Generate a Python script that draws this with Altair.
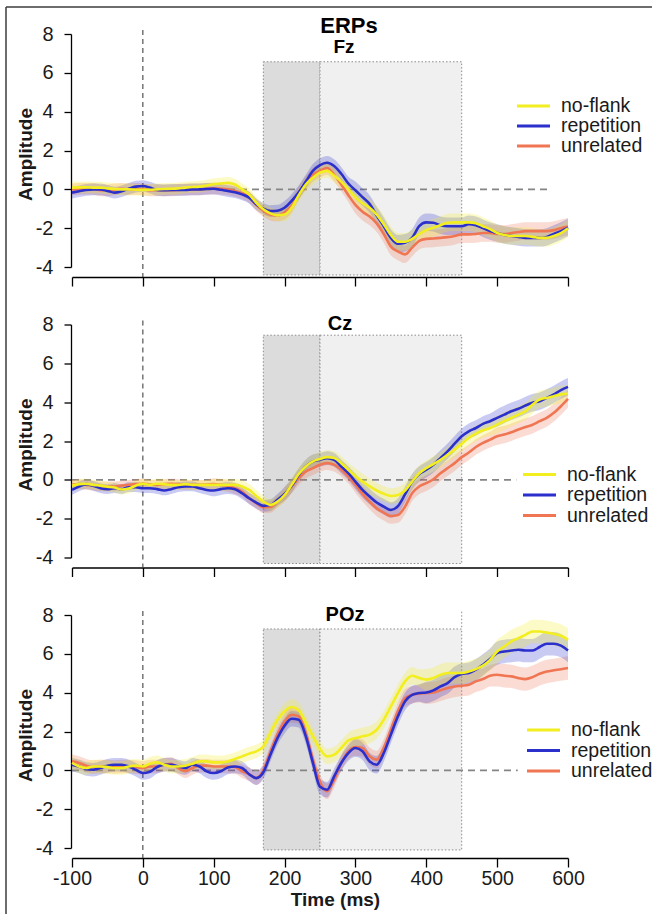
import altair as alt
import pandas as pd

# ---------------- data ----------------
TIME_MS = list(range(-100, 601, 10))
CONDITIONS = ["no-flank", "repetition", "unrelated"]
DRAW_ORDER = ["unrelated", "repetition", "no-flank"]

FZ_NOFLANK = [0.09, 0.10, 0.10, 0.09, 0.09, 0.05, 0.02, 0.00, 0.00, -0.02,
              -0.03, -0.02, 0.00, 0.02, 0.03, 0.05, 0.09, 0.12, 0.14, 0.20,
              0.26, 0.30, 0.34, 0.25, 0.00, -0.26, -0.69, -1.03, -1.24, -1.34,
              -1.30, -0.95, -0.30, 0.25, 0.60, 0.86, 0.95, 0.70, 0.40, 0.00,
              -0.40, -0.72, -0.95, -1.30, -1.80, -2.35, -2.70, -2.70, -2.55, -2.30,
              -2.10, -1.98, -1.85, -1.72, -1.70, -1.70, -1.70, -1.75, -1.90, -2.05,
              -2.25, -2.35, -2.40, -2.40, -2.40, -2.45, -2.50, -2.50, -2.40, -2.25,
              -2.00]
FZ_REPETITION = [-0.17, -0.10, -0.03, 0.00, 0.00, -0.08, -0.17, -0.10, 0.03, 0.14,
                 0.17, 0.09, -0.03, -0.05, -0.03, -0.03, -0.03, 0.00, 0.00, 0.02,
                 0.03, -0.02, -0.09, -0.15, -0.26, -0.43, -0.77, -1.00, -1.12, -1.10,
                 -0.95, -0.60, -0.15, 0.40, 0.95, 1.25, 1.37, 1.20, 0.80, 0.30,
                 -0.05, -0.40, -0.75, -1.35, -1.90, -2.50, -2.80, -2.75, -2.50, -1.90,
                 -1.70, -1.72, -1.85, -1.90, -1.90, -1.90, -1.80, -1.85, -2.00, -2.15,
                 -2.25, -2.35, -2.40, -2.45, -2.50, -2.50, -2.50, -2.45, -2.30, -2.15,
                 -1.97]
FZ_UNRELATED = [0.00, 0.02, 0.03, 0.02, -0.05, -0.05, 0.00, 0.03, 0.00, 0.02,
                0.00, -0.05, -0.05, -0.05, -0.05, -0.03, 0.00, 0.00, 0.00, 0.03,
                0.05, 0.03, 0.00, -0.08, -0.20, -0.40, -0.80, -1.10, -1.30, -1.35,
                -1.20, -0.85, -0.20, 0.30, 0.75, 0.95, 1.10, 0.75, 0.25, -0.30,
                -0.80, -1.15, -1.40, -1.75, -2.30, -2.95, -3.20, -3.35, -3.00, -2.65,
                -2.55, -2.53, -2.50, -2.46, -2.40, -2.32, -2.32, -2.30, -2.25, -2.25,
                -2.30, -2.30, -2.25, -2.20, -2.15, -2.15, -2.15, -2.15, -2.10, -2.00,
                -1.92]

CZ_NOFLANK = [-0.30, -0.22, -0.20, -0.26, -0.30, -0.35, -0.40, -0.50, -0.45, -0.30,
              -0.20, -0.26, -0.20, -0.22, -0.26, -0.26, -0.22, -0.26, -0.26, -0.26,
              -0.26, -0.26, -0.26, -0.26, -0.34, -0.52, -0.83, -1.12, -1.29, -1.12,
              -0.78, -0.26, 0.30, 0.69, 0.95, 1.07, 1.17, 1.12, 0.86, 0.52,
              0.20, -0.09, -0.34, -0.55, -0.72, -0.83, -0.78, -0.55, -0.09, 0.34,
              0.60, 0.81, 1.03, 1.29, 1.55, 1.86, 2.16, 2.38, 2.55, 2.67,
              2.84, 3.02, 3.19, 3.36, 3.53, 3.88, 4.14, 4.22, 4.31, 4.40,
              4.45]
CZ_REPETITION = [-0.52, -0.34, -0.22, -0.31, -0.43, -0.48, -0.43, -0.48, -0.38, -0.38,
                 -0.43, -0.43, -0.48, -0.55, -0.48, -0.38, -0.34, -0.34, -0.43, -0.52,
                 -0.55, -0.48, -0.43, -0.48, -0.69, -0.95, -1.17, -1.34, -1.30, -1.03,
                 -0.72, -0.30, 0.25, 0.69, 0.95, 1.03, 1.12, 1.03, 0.69, 0.34,
                 -0.09, -0.52, -0.86, -1.17, -1.38, -1.55, -1.35, -0.75, -0.10, 0.30,
                 0.52, 0.78, 1.12, 1.47, 1.86, 2.24, 2.50, 2.67, 2.88, 3.02,
                 3.19, 3.36, 3.53, 3.66, 3.83, 3.97, 4.05, 4.22, 4.40, 4.62,
                 4.79]
CZ_UNRELATED = [-0.26, -0.22, -0.26, -0.30, -0.34, -0.34, -0.34, -0.30, -0.26, -0.22,
                -0.20, -0.24, -0.26, -0.22, -0.20, -0.22, -0.26, -0.26, -0.26, -0.24,
                -0.22, -0.26, -0.31, -0.43, -0.60, -0.95, -1.20, -1.41, -1.40, -1.12,
                -0.78, -0.34, 0.09, 0.43, 0.60, 0.78, 0.86, 0.78, 0.52, 0.17,
                -0.26, -0.72, -1.12, -1.47, -1.69, -1.86, -1.81, -1.38, -0.69, -0.34,
                -0.17, 0.03, 0.34, 0.60, 0.86, 1.17, 1.41, 1.69, 1.90, 2.07,
                2.24, 2.33, 2.45, 2.59, 2.72, 2.84, 3.02, 3.19, 3.45, 3.79,
                4.17]

POZ_NOFLANK = [0.38, 0.20, 0.12, 0.20, 0.20, 0.17, 0.12, 0.12, 0.20, 0.24,
               0.20, 0.34, 0.41, 0.29, 0.20, 0.20, 0.24, 0.34, 0.46, 0.46,
               0.41, 0.41, 0.46, 0.58, 0.72, 0.86, 0.98, 1.23, 1.92, 2.60,
               3.04, 3.26, 3.09, 2.44, 1.75, 1.10, 0.72, 0.81, 1.15, 1.54,
               1.66, 1.75, 1.84, 2.09, 2.61, 3.29, 3.98, 4.58, 4.87, 4.75,
               4.67, 4.75, 4.92, 5.01, 5.01, 5.01, 5.09, 5.21, 5.39, 5.69,
               6.12, 6.38, 6.64, 6.81, 6.98, 7.15, 7.15, 7.10, 7.03, 6.93,
               6.72]
POZ_REPETITION = [0.29, 0.20, 0.07, 0.03, 0.12, 0.24, 0.29, 0.29, 0.20, 0.03,
                  -0.14, -0.07, 0.17, 0.29, 0.29, 0.20, 0.12, 0.29, 0.20, -0.05,
                  -0.14, -0.05, 0.15, 0.20, 0.12, -0.20, -0.40, -0.10, 0.80, 1.66,
                  2.30, 2.66, 2.60, 1.75, 0.38, -0.85, -1.00, -0.31, 0.38, 0.89,
                  1.15, 0.98, 0.46, 0.29, 0.89, 1.84, 2.78, 3.55, 3.89, 3.98,
                  4.01, 4.12, 4.32, 4.49, 4.80, 4.96, 5.01, 5.18, 5.44, 5.73,
                  6.04, 6.12, 6.17, 6.21, 6.17, 6.17, 6.35, 6.52, 6.52, 6.42,
                  6.17]
POZ_UNRELATED = [0.46, 0.38, 0.24, 0.17, 0.20, 0.20, 0.17, 0.20, 0.20, 0.17,
                 0.12, 0.20, 0.20, 0.29, 0.34, 0.12, -0.05, 0.12, 0.24, 0.24,
                 0.20, 0.20, 0.20, 0.17, -0.05, -0.20, -0.40, 0.00, 0.95, 1.85,
                 2.50, 2.86, 2.78, 1.92, 0.55, -0.60, -1.08, -0.48, 0.38, 0.98,
                 1.20, 1.15, 0.72, 0.55, 1.15, 2.09, 3.04, 3.72, 3.89, 3.95,
                 3.98, 4.01, 4.12, 4.24, 4.32, 4.36, 4.41, 4.58, 4.70, 4.87,
                 4.92, 4.87, 4.84, 4.75, 4.70, 4.80, 4.97, 5.09, 5.15, 5.21,
                 5.27]

# confidence half-widths, one per 100-ms bin starting at -100, 0, ..., 500
FZ_CI = [0.30, 0.30, 0.30, 0.35, 0.45, 0.45, 0.45]
CZ_CI = [0.25, 0.25, 0.30, 0.35, 0.40, 0.40, 0.45]
POZ_CI = [0.35, 0.35, 0.35, 0.40, 0.45, 0.55, 0.60]

WINDOW_EARLY = [170, 250]
WINDOW_LATE = [250, 450]

X_DOMAIN = [-100, 600]
Y_DOMAIN = [-4, 8]
X_TICKS = list(range(-100, 601, 100))
Y_TICKS = list(range(-4, 9, 2))

# ---------------- styling ----------------
FONT = "Liberation Sans"
LINE_COLORS = ["#f2ee1f", "#2b2fcc", "#f07552"]
TXT = "#1a1a1a"

PANELS = [
    dict(name="Fz", series={"no-flank": FZ_NOFLANK, "repetition": FZ_REPETITION, "unrelated": FZ_UNRELATED},
         ci=FZ_CI, box_top=6.57, box_bot=-4.41, zero_end=572, extra_top=None,
         legend_xy=(445, 72), legend_step=20, title_xy=(272, 19), title_size=19),
    dict(name="Cz", series={"no-flank": CZ_NOFLANK, "repetition": CZ_REPETITION, "unrelated": CZ_UNRELATED},
         ci=CZ_CI, box_top=7.45, box_bot=-4.31, zero_end=527, extra_top=None,
         legend_xy=(451, 150), legend_step=20.5, title_xy=(268, 5), title_size=20),
    dict(name="POz", series={"no-flank": POZ_NOFLANK, "repetition": POZ_REPETITION, "unrelated": POZ_UNRELATED},
         ci=POZ_CI, box_top=7.28, box_bot=-4.10, zero_end=529, extra_top=8.17,
         legend_xy=(455, 115), legend_step=20.5, title_xy=(273, 6), title_size=20),
]

for p in PANELS:
    for c in CONDITIONS:
        assert len(p["series"][c]) == len(TIME_MS), (p["name"], c, len(p["series"][c]))


def make_panel(p, first=False, last=False):
    rows = []
    for cond in DRAW_ORDER:
        for t, v in zip(TIME_MS, p["series"][cond]):
            hw = p["ci"][min((t + 100) // 100, len(p["ci"]) - 1)]
            rows.append(dict(cond=cond, t=t, amp=v, lo=v - hw, hi=v + hw))
    df = pd.DataFrame(rows)

    xs = alt.Scale(domain=X_DOMAIN, nice=False, zero=False)
    ys = alt.Scale(domain=Y_DOMAIN, nice=False, zero=False)
    cscale = alt.Scale(domain=CONDITIONS, range=LINE_COLORS)

    x_axis = alt.Axis(values=X_TICKS, offset=10, tickSize=9, grid=False,
                      domainColor="black", tickColor="black", domainWidth=1.3, tickWidth=1.3,
                      labels=last, labelFlush=False, labelFontSize=19.5, labelFont=FONT,
                      labelColor=TXT, labelPadding=2, labelExpr="'' + datum.value",
                      title="Time (ms)" if last else "",
                      titleFontSize=19, titleFont=FONT, titleFontWeight="bold", titleColor=TXT,
                      titleX=263, titleY=47, titleBaseline="alphabetic", titleAlign="center")
    y_axis = alt.Axis(values=Y_TICKS, offset=1, tickSize=7, grid=False,
                      domainColor="black", tickColor="black", domainWidth=1.3, tickWidth=1.3,
                      labelFlush=False, labelFontSize=20, labelFont=FONT, labelColor=TXT,
                      labelPadding=11, labelExpr="'' + datum.value",
                      title="Amplitude", titleFontSize=19, titleFont=FONT, titleFontWeight="bold",
                      titleColor=TXT, titleX=-40, titleY=120, titleAngle=270,
                      titleAlign="center", titleBaseline="alphabetic")

    def X(field):
        return alt.X(field, scale=xs, axis=x_axis)

    def Y(field):
        return alt.Y(field, scale=ys, axis=y_axis)

    layers = []
    for (t1, t2), shade in ((WINDOW_EARLY, "#dcdcdc"), (WINDOW_LATE, "#f0f0f0")):
        box = pd.DataFrame({"t1": [t1], "t2": [t2], "top": [p["box_top"]], "bot": [p["box_bot"]]})
        layers.append(alt.Chart(box).mark_rect(fill=shade, stroke="#8c8c8c", strokeDash=[1.5, 2],
                                               strokeWidth=1).encode(
            x=X("t1:Q"), x2="t2", y=Y("top:Q"), y2="bot"))

    if p["extra_top"] is not None:
        ext = pd.DataFrame({"t": [WINDOW_LATE[1]], "top": [p["extra_top"]], "bot": [p["box_top"]]})
        layers.append(alt.Chart(ext).mark_rule(stroke="#8c8c8c", strokeDash=[1.5, 2], strokeWidth=1).encode(
            x=X("t:Q"), y=Y("top:Q"), y2="bot"))

    onset = pd.DataFrame({"t": [0], "top": [8.2], "bot": [-4.52]})
    layers.append(alt.Chart(onset).mark_rule(stroke="#444444", strokeDash=[5, 4], strokeWidth=1.1).encode(
        x=X("t:Q"), y=Y("top:Q"), y2="bot"))

    zero = pd.DataFrame({"t1": [X_DOMAIN[0]], "t2": [p["zero_end"]], "y": [0]})
    layers.append(alt.Chart(zero).mark_rule(stroke="#858585", strokeDash=[7, 5], strokeWidth=1.8).encode(
        x=X("t1:Q"), x2="t2", y=Y("y:Q")))

    layers.append(alt.Chart(df).mark_area(opacity=0.25, interpolate="monotone").encode(
        x=X("t:Q"), y=Y("lo:Q"), y2="hi",
        fill=alt.Fill("cond:N", scale=cscale, legend=None)))

    layers.append(alt.Chart(df).mark_line(strokeWidth=2.6, interpolate="monotone").encode(
        x=X("t:Q"), y=Y("amp:Q"),
        color=alt.Color("cond:N", scale=cscale, legend=None)))

    # legend keys (one row per condition), coloured through the same colour scale
    lx, ly = p["legend_xy"]
    for i, cond in enumerate(CONDITIONS):
        row = pd.DataFrame({"cond": [cond]})
        yy = ly + i * p["legend_step"]
        layers.append(alt.Chart(row).mark_rule(strokeWidth=3).encode(
            x=alt.value(lx), x2=alt.value(lx + 33), y=alt.value(yy),
            color=alt.Color("cond:N", scale=cscale, legend=None)))
        layers.append(alt.Chart(row).mark_text(align="left", baseline="middle", fontSize=19.5,
                                               font=FONT, color=TXT).encode(
            x=alt.value(lx + 44), y=alt.value(yy), text="cond:N"))

    tx, ty = p["title_xy"]
    layers.append(alt.Chart(pd.DataFrame({"label": [p["name"]]})).mark_text(
        font=FONT, fontWeight="bold", fontSize=p["title_size"], align="center",
        baseline="alphabetic", color="black").encode(
        x=alt.value(tx), y=alt.value(ty), text="label:N"))

    if first:
        layers.append(alt.Chart(pd.DataFrame({"label": ["ERPs"]})).mark_text(
            font=FONT, fontWeight="bold", fontSize=22, align="center",
            baseline="alphabetic", color="black").encode(
            x=alt.value(277), y=alt.value(-1), text="label:N"))
        one = pd.DataFrame({"k": [0]})
        layers.append(alt.Chart(one).mark_rule(color="#3c3c3c", strokeWidth=1.5).encode(
            x=alt.value(-66), x2=alt.value(580), y=alt.value(-27)))
        layers.append(alt.Chart(one).mark_rule(color="#3c3c3c", strokeWidth=1.5).encode(
            x=alt.value(-66), y=alt.value(-27), y2=alt.value(880)))

    return alt.layer(*layers).properties(width=496, height=233)


panels = [make_panel(p, first=(i == 0), last=(i == 2)) for i, p in enumerate(PANELS)]

chart = (
    alt.vconcat(*panels, spacing=57.5, bounds="flush")
    .properties(padding={"left": 5, "top": 6, "right": 0, "bottom": 0}, background="white")
    .configure_view(stroke=None)
)

chart.save("out.html", embed_options={"renderer": "svg", "actions": False})
